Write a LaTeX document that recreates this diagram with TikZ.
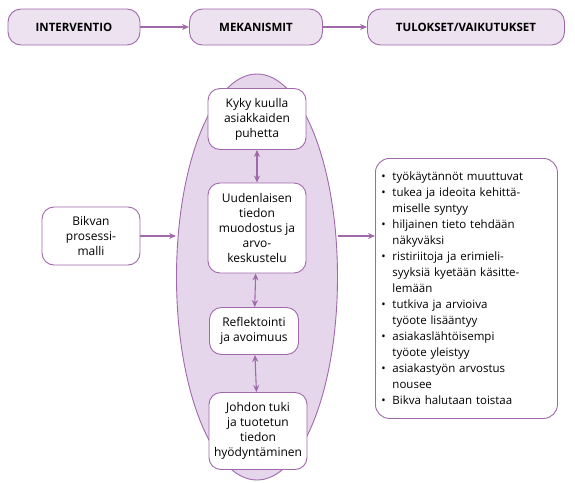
\documentclass[tikz,border=0pt]{standalone}
\usepackage{fontspec}
\setmainfont{Open Sans}
\usetikzlibrary{arrows.meta,shapes.geometric}
\definecolor{vio}{RGB}{160,105,170}
\definecolor{viofill}{RGB}{236,226,240}
\definecolor{ellfill}{RGB}{229,214,235}
\newcommand{\kohta}[1]{\hangindent=11pt\hangafter=1\noindent\makebox[11pt][l]{\textbullet}#1\par}

\begin{document}
\begin{tikzpicture}[x=1pt, y=-1pt,
		head/.style={draw=vio, fill=viofill, rounded corners=13pt, line width=0.9pt, minimum width=132pt, minimum height=36pt, font=\fontsize{11.5}{13}\selectfont\bfseries},
		mech/.style={draw=vio, fill=white, rounded corners=12pt, line width=0.9pt, minimum width=98pt, inner xsep=2pt, align=center, font=\fontsize{12}{15}\selectfont},
		arr/.style={vio, line width=1.1pt, -{Stealth[length=7pt,width=6pt]}},
		darr/.style={vio, line width=1.1pt, {Stealth[length=7pt,width=6pt]}-{Stealth[length=7pt,width=6pt]}}]
				\useasboundingbox (0,0) rectangle (575,482);
				\node[head] (interv) at (74,27) {INTERVENTIO};
				\node[head, minimum width=133pt] (mekan) at (256,27) {MEKANISMIT};
				\node[head, minimum width=197pt] (tulos) at (466,27) {TULOKSET/VAIKUTUKSET};
				\draw[arr] (interv) -- (mekan);
				\draw[arr] (mekan) -- (tulos);
				% \draw[fill = ellfill] (257,277) ellipse (80 and 203);
				\node[ellipse, draw=vio, fill=ellfill, line width=0.9pt, minimum width=161pt, minimum height=406pt, inner sep=0pt] (soikio) at (257,277) {};
				\node[mech, minimum height=61pt] (kyky) at (257,119) {Kyky kuulla\\asiakkaiden\\puhetta};
				\node[mech, minimum height=90pt] (uusi) at (257,228) {Uudenlaisen\\tiedon\\muodostus ja\\arvo-\\keskustelu};
				\node[mech, minimum height=47pt, minimum width=89pt] (refl) at (254,331) {Reflektointi\\ja avoimuus};
				\node[mech, minimum height=77pt] (johto) at (258,431) {Johdon tuki\\ja tuotetun\\tiedon\\hyödyntäminen};
				\draw[darr] (kyky) -- (uusi);
				\draw[darr] (uusi) -- (refl);
				\draw[darr] (refl) -- (johto);
				\node[mech, minimum width=98pt, minimum height=58pt] (bikva) at (91,236) {Bikvan\\prosessi-\\malli};
				\node[draw=vio, fill=white, rounded corners=14pt, line width=0.9pt, anchor=north west, text width=170pt, minimum height=260pt, inner xsep=6pt, align=left, font=\fontsize{11.5}{16}\selectfont] (lista) at (375,158) {%
					\kohta{työkäytännöt muuttuvat}
					\kohta{tukea ja ideoita kehittä-\newline miselle syntyy}
					\kohta{hiljainen tieto tehdään\newline näkyväksi}
					\kohta{ristiriitoja ja erimieli-\newline syyksiä kyetään käsitte-\newline lemään}
					\kohta{tutkiva ja arvioiva\newline työote lisääntyy}
					\kohta{asiakaslähtöisempi\newline työote yleistyy}
					\kohta{asiakastyön arvostus\newline nousee}
					\kohta{Bikva halutaan toistaa}};
				\draw[arr] (bikva) -- (bikva -| soikio.west);
				\draw[arr] (soikio.east |- bikva) -- (lista.west |- bikva);
			\end{tikzpicture}
\end{document}
